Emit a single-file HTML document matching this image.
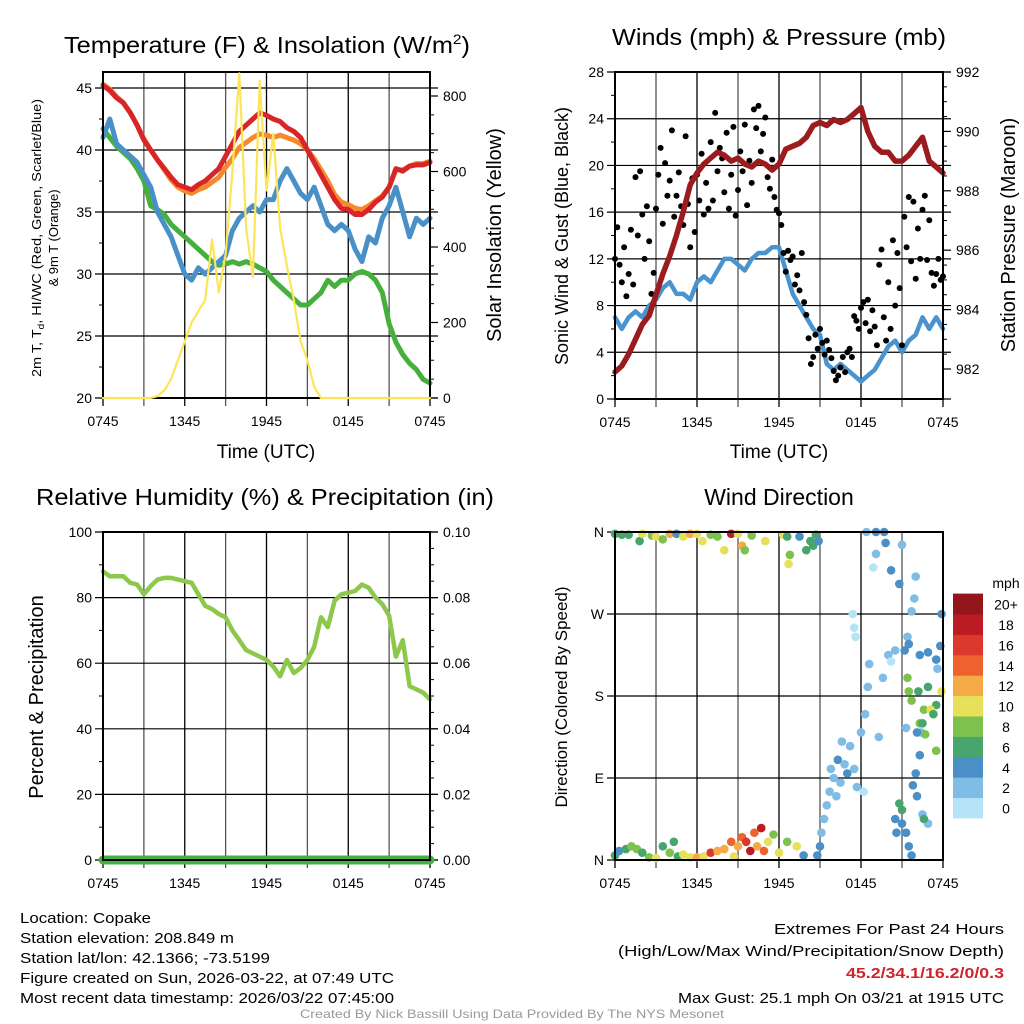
<!DOCTYPE html>
<html><head><meta charset="utf-8"><style>
html,body{margin:0;padding:0;background:#fff;}
svg{display:block;font-family:"Liberation Sans",sans-serif;}
</style></head><body>
<svg id="root" width="1024" height="1024" viewBox="0 0 1024 1024">
<g id="static">
<text x="267" y="53" font-size="23" text-anchor="middle" textLength="406" lengthAdjust="spacingAndGlyphs">Temperature (F) &amp; Insolation (W/m<tspan font-size="14" dy="-9">2</tspan><tspan dy="9">)</tspan></text>
<text x="779" y="45" font-size="23" text-anchor="middle" textLength="334" lengthAdjust="spacingAndGlyphs">Winds (mph) &amp; Pressure (mb)</text>
<text x="265" y="505" font-size="23" text-anchor="middle" textLength="458" lengthAdjust="spacingAndGlyphs">Relative Humidity (%) &amp; Precipitation (in)</text>
<text x="779" y="505" font-size="23" text-anchor="middle">Wind Direction</text>

<text transform="translate(41,238) rotate(-90)" font-size="13" text-anchor="middle" textLength="278" lengthAdjust="spacingAndGlyphs">2m T, T<tspan font-size="9" dy="3">d</tspan><tspan dy="-3">, HI/WC (Red, Green, Scarlet/Blue)</tspan></text>
<text transform="translate(58,238) rotate(-90)" font-size="13" text-anchor="middle">&amp; 9m T (Orange)</text>
<text transform="translate(501,235) rotate(-90)" font-size="20" text-anchor="middle">Solar Insolation (Yellow)</text>
<text transform="translate(568,236) rotate(-90)" font-size="18" text-anchor="middle">Sonic Wind &amp; Gust (Blue, Black)</text>
<text transform="translate(1015,235) rotate(-90)" font-size="20" text-anchor="middle">Station Pressure (Maroon)</text>
<text transform="translate(43,697) rotate(-90)" font-size="20" text-anchor="middle">Percent &amp; Precipitation</text>
<text transform="translate(567,697) rotate(-90)" font-size="17" text-anchor="middle">Direction (Colored By Speed)</text>

<text x="266" y="458" font-size="19" text-anchor="middle">Time (UTC)</text>
<text x="779" y="458" font-size="19" text-anchor="middle">Time (UTC)</text>

<g font-size="15">
<text x="20" y="923" textLength="131" lengthAdjust="spacingAndGlyphs">Location: Copake</text>
<text x="20" y="943" textLength="214" lengthAdjust="spacingAndGlyphs">Station elevation: 208.849 m</text>
<text x="20" y="963" textLength="250" lengthAdjust="spacingAndGlyphs">Station lat/lon: 42.1366; -73.5199</text>
<text x="20" y="983" textLength="374" lengthAdjust="spacingAndGlyphs">Figure created on Sun, 2026-03-22, at 07:49 UTC</text>
<text x="20" y="1003" textLength="374" lengthAdjust="spacingAndGlyphs">Most recent data timestamp: 2026/03/22 07:45:00</text>
</g>
<g font-size="15" text-anchor="end">
<text x="1004" y="934" textLength="230" lengthAdjust="spacingAndGlyphs">Extremes For Past 24 Hours</text>
<text x="1004" y="956" textLength="386" lengthAdjust="spacingAndGlyphs">(High/Low/Max Wind/Precipitation/Snow Depth)</text>
<text x="1004" y="978" fill="#d0232a" font-weight="bold" textLength="158" lengthAdjust="spacingAndGlyphs">45.2/34.1/16.2/0/0.3</text>
<text x="1004" y="1003" textLength="326" lengthAdjust="spacingAndGlyphs">Max Gust: 25.1 mph On 03/21 at 1915 UTC</text>
</g>
<text x="512" y="1018" font-size="12" fill="#999" text-anchor="middle" textLength="424" lengthAdjust="spacingAndGlyphs">Created By Nick Bassill Using Data Provided By The NYS Mesonet</text>
</g>
<g id="plots"></g>
</svg>
<script>
// ---- data (every 30 min from 0745 UTC, 49 values) ----
const timeTickLabels = ["0745","1345","1945","0145","0745"];
const tempRed = [45.2,44.8,44.2,43.8,43,42,40.8,40,39.2,38.5,37.8,37.2,37,36.8,37.2,37.5,38,38.5,39.5,40.5,41.5,42,42.5,43,42.8,42.5,42.3,41.8,41.5,41,40,39,38,37,36,35.3,35.2,34.8,34.8,35.2,35.8,36.2,37,38.5,38.3,38.7,38.8,38.8,39];
const tempOrange = [45.3,44.9,44.3,43.8,43,42,40.9,40,39.2,38.4,37.6,37,36.7,36.5,36.8,37,37.4,37.8,38.6,39.3,40.2,40.6,41,41.3,41.2,41,41.2,41,40.8,40.5,40,39.3,38.4,37.5,36.4,35.8,35.6,35.3,35.2,35.5,35.9,36.3,37,38.4,38.4,38.7,38.9,38.9,39.1];
const tempBlue = [41,42.5,40.5,40,39.5,39,38,37,35,34,33,31.5,30,29.5,30.5,30,30.5,31,31.5,33.5,34.5,35,35.5,35,36,36,37.5,38.5,37.5,36.5,36,37,35.5,34,33.5,34,33.5,32,31,33,32.5,34.5,35.5,37,35,33,34.5,34,34.5];
const tempGreen = [41.7,41,40.3,39.8,39.3,38.5,37.5,35.5,35.2,34.8,34,33.5,33,32.5,32,31.5,31,30.7,30.8,31,30.8,31,30.8,30.5,30.2,29.5,29,28.5,28,27.5,27.5,28,28.5,29.5,29,29.5,29.5,30,30.2,30,29.5,28.5,26,24.5,23.5,22.8,22.3,21.5,21.2];
const insolation = [0,0,0,0,0,0,0,0,5,20,50,100,150,200,230,260,420,280,380,600,860,450,320,840,550,700,450,350,260,150,100,30,0,0,0,0,0,0,0,0,0,0,0,0,0,0,0,0,0];
const windSpeed = [7,6,7,7.5,7,8,8.5,9.5,10,9,9,8.5,10,10.5,10,11,12,12,11.5,11,12,12.5,12.5,13,13,11,9,8,7,6,5.5,3,2.5,3,2.5,2,1.5,2,2.5,3.5,4.5,5,4,5,5.5,7,6,7,6];
const pressure = [981.9,982.1,982.5,983,983.5,983.8,984.5,985.2,985.8,986.5,987.3,988.2,988.6,988.9,989.1,989.3,989.2,989,989.1,988.9,988.8,989,988.9,988.7,988.9,989.4,989.5,989.6,989.8,990.2,990.3,990.2,990.4,990.3,990.4,990.6,990.8,990,989.5,989.3,989.3,989,989,989.2,989.5,989.8,989,988.8,988.6];
const humidity = [88,86.5,86.5,86.5,84.5,84,81,83.5,85.5,86,86,85.5,85,84.5,81,77.5,76.5,75,74,70,67,64,63,62,61,59,56,61,57,58.5,61,65,74,71,79,81,81.5,82,84,83,80,78,74.5,62,67,53,52,51,49];
const precip = [0,0,0,0,0,0,0,0,0,0,0,0,0,0,0,0,0,0,0,0,0,0,0,0,0,0,0,0,0,0,0,0,0,0,0,0,0,0,0,0,0,0,0,0,0,0,0,0,0];
// gusts every 10 min (145 values)
const gustValues = [12,14.7,11.5,10,13,8.8, 10.7,14.5,9.8,19,14,19.5, 15.8,12,16.5,13.5,9,10.8, 16.3,19.2,21.5,15,20.2,17.4, 18.7,23,15.6,17.4,19.4,16.5, 14.9,22.5,16.7,13,18.9,14.3, 19.2,17,21,15.8,18.5,16.3, 22,17,24.5,19.5,21.5,20.6, 17.7,22.8,16.3,19.2,23.3,15.7, 17.9,21.2,19.5,23.5,16.6,20.4, 18.5,24.8,23.2,25.1,21.2,22.7, 24.1,19,18,20.5,17.3,16.2, 15.9,14.9,12.5,10.9,12.7,11.9, 12.2,9.8,10.6,9.3,12.5,8.3, 7.2,5.2,3,3.6,5.5,4.3, 6,4.8,3.8,5,4.2,3.5, 2.4,1.6,2,2.7,3.6,2.3, 4,4.3,3.6,7.1,6.7,6, 7.8,8.3,6.5,8.5,5.8,7.6, 6.2,4.6,11.5,12.8,7,5, 10,6,13.6,8,12.5,9.5, 4.6,15.6,13,17.3,11.8,16.9, 10.3,14.6,12,16.2,17.4,11.9, 15.3,10.8,9.7,10.7,12,10.2, 10.5];
// wind direction observations
const dirHours = [0,0.3,0.8,1.2,1.6,2,2.5,3,3.5,4,4.3,4.6,5,5.5,6,6.5,7,7.5,8,8.5,8.7,9,9.3,9.6,9.9,10.2,10.4,10.7,10.9,11.2,11.6,12,12.6,13.3,13.8,
 0,0.5,1,1.8,2,2.7,3,3.5,4,4.5,5,5.5,6,6.4,7,7.5,8,8.5,9,9.3,9.5,10,11,12.3,12.6,12.8,12.7,13.5,14,14.3,14.5,14.7,14.9,
 14.8,15,15.1,15.3,15.5,15.7,15.8,16,16.2,16.3,16.5,16.6,16.8,17,17.2,17.5,17.7,18,18.2,18.3,18.5,18.6,17.4,17.5,17.6,19.3,19.6,20,20.2,20.5,20.8,21,21,21.3,21.5,21.7,21.3,21.8,22,22.1,22.4,22.9,22.5,20.5,20.6,
 18.4,19.1,19.8,19.1,19.7,18.9,20.2,20.8,21,22,21.9,21.7,21.4,21.5,21.2,22.3,22.9,23.8,23.5,23.9,23.6,21.4,21.5,21.7,22.2,22.6,22.9,23.5,23.1,23.9,22.3,22.5,22.1,22.3,22.7,23.3,23.5,22.6];
const dirDegrees = [5,10,12,15,12,8,3,2,15,8,20,4,6,3,3,4,8,10,12,20,4,15,25,20,10,30,15,35,10,20,28,8,20,15,5,
 358,357,357,350,358,356,355,352,358,358,355,358,358,350,357,355,340,358,358,345,340,356,350,357,355,335,325,355,340,350,345,357,350,
 5,15,30,45,60,75,100,90,70,110,85,130,105,95,125,100,80,140,75,160,190,215,270,255,245,135,200,225,218,230,62,55,40,30,15,5,145,82,95,70,140,40,50,45,30,
 360,360,348,336,360,321,318,303,346,311,287,273,245,237,230,225,228,235,220,270,210,200,185,175,185,165,190,170,165,185,150,150,140,115,138,160,120,45];
const dirSpeeds = [6,4,7,8,8,6,8,10,6,8,6,7,10,10,12,10,16,12,12,14,10,12,14,16,18,14,12,18,14,10,8,10,8,10,4,
 6,6,6,6,10,8,10,8,12,4,10,12,10,10,8,8,10,18,10,12,8,8,10,10,6,8,10,4,6,6,6,6,4,
 4,4,2,2,2,2,2,2,2,4,2,2,2,4,2,2,2,2,0,2,2,2,0,0,0,2,2,2,0,2,6,6,4,4,4,4,2,4,4,4,2,2,2,4,4,
 2,4,4,2,4,0,4,4,2,2,2,2,2,4,4,4,4,4,4,4,2,8,8,8,6,8,6,6,10,10,8,6,4,4,8,6,8,6];
const speedBinLabels = ["0","2","4","6","8","10","12","14","16","18","20+"];
const speedBinColors = ["#b5e4f6","#7fbde6","#4a8fc6","#48a56d","#7dc24c","#e7e05a","#f6a947","#ef6230","#dc382b","#bd1b24","#92161b"];

const NS="http://www.w3.org/2000/svg";
const plots=document.getElementById('plots');
function mk(tag,attrs,parent){const e=document.createElementNS(NS,tag);for(const k in attrs)e.setAttribute(k,attrs[k]);(parent||plots).appendChild(e);return e;}
function txt(x,y,s,size,anchor,parent){const t=mk('text',{x:x,y:y,'font-size':size,'text-anchor':anchor},parent);t.textContent=s;return t;}

function makePanel(o){
  const g=mk('g',{});
  
  
  const X=h=>o.x0+h/24*(o.x1-o.x0);
  const Y=v=>o.yb-(v-o.lmin)/(o.lmax-o.lmin)*(o.yb-o.yt);
  const YR=v=>o.yb-(v-o.rmin)/(o.rmax-o.rmin)*(o.yb-o.yt);
  for(let i=0;i<=8;i++){const x=X(i*3);const l=mk('line',{x1:x,x2:x,y1:o.yt,y2:o.yb+8,stroke:i%2?'#555':'#000','stroke-width':1.3},g);
    }
  o.lticks.forEach((v,i)=>{const y=Y(v);
    const l=mk('line',{x1:o.x0-8,x2:o.x1+(o.rticks?8:0),y1:y,y2:y,stroke:'#000','stroke-width':1.2},g);
    
    const t=txt(o.x0-11,y+5,o.llabels[i],14,'end',g);
    
    if(i<o.lticks.length-1&&o.lminor){const ym=Y((v+o.lticks[i+1])/2);mk('line',{x1:o.x0-4,x2:o.x0,y1:ym,y2:ym,stroke:'#000'},g);}
  });
  if(o.rticks){o.rticks.forEach((v,i)=>{const y=YR(v);
    mk('line',{x1:o.x1,x2:o.x1+8,y1:y,y2:y,stroke:'#000','stroke-width':1.2},g);
    const t=txt(o.x1+13,y+5,o.rlabels[i],14,'start',g);
    
    if(i<o.rticks.length-1){for(let k=1;k<o.rminorN;k++){const ym=YR(v+(o.rticks[i+1]-v)*k/o.rminorN);mk('line',{x1:o.x1,x2:o.x1+4,y1:ym,y2:ym,stroke:'#000'},g);}}
  });}
  timeTickLabels.forEach((s,i)=>{const t=txt(X(i*6),o.yb+28,s,14,'middle',g);
    });
  return {g,X,Y,YR};
}
function line(p,arr,scale,color,w,name){
  let d='';arr.forEach((v,i)=>{d+=(i?'L':'M')+p.X(i*0.5).toFixed(1)+','+scale(v).toFixed(1);});
  const e=mk('path',{d:d,fill:'none',stroke:color,'stroke-width':w,'stroke-linejoin':'round','stroke-linecap':'round'},p.g);
  return e;
}
function frame(p,o){const r=mk('rect',{x:o.x0,y:o.yt,width:o.x1-o.x0,height:o.yb-o.yt,fill:'none',stroke:'#000','stroke-width':2},p.g);
  }

const o1={name:'temperature-panel',x0:103,x1:430,yt:72,yb:398,lmin:20,lmax:20+326/12.4,lticks:[20,25,30,35,40,45],llabels:["20","25","30","35","40","45"],lminor:true,
 rmin:0,rmax:326/0.3775,rticks:[0,200,400,600,800],rlabels:["0","200","400","600","800"],rminorN:4};
const p1=makePanel(o1);
line(p1,tempGreen,p1.Y,'#45b03c',5,'dewpoint-line');
line(p1,tempBlue,p1.Y,'#4a90c8',5,'windchill-line');
line(p1,tempOrange,p1.Y,'#f5892e',5,'temp-9m-line');
line(p1,tempRed,p1.Y,'#d82527',5,'temp-2m-line');
frame(p1,o1);
line(p1,insolation,p1.YR,'#fde55a',2.2,'insolation-line');

const o2={name:'wind-panel',x0:615,x1:943,yt:72,yb:399,lmin:0,lmax:28,lticks:[0,4,8,12,16,20,24,28],llabels:["0","4","8","12","16","20","24","28"],lminor:true,
 rmin:992-327/29.7,rmax:992,rticks:[982,984,986,988,990,992],rlabels:["982","984","986","988","990","992"],rminorN:4};
const p2=makePanel(o2);
line(p2,windSpeed,p2.Y,'#4a93cf',4.5,'sonic-wind-line');
gustValues.forEach((v,i)=>{const c=mk('circle',{cx:p2.X(i/6).toFixed(1),cy:p2.Y(v).toFixed(1),r:3,fill:'#000'},p2.g);
  });
line(p2,pressure,p2.YR,'#9b1b1e',5.5,'pressure-line');
frame(p2,o2);

const o3={name:'humidity-panel',x0:103,x1:430,yt:532,yb:860,lmin:0,lmax:100,lticks:[0,20,40,60,80,100],llabels:["0","20","40","60","80","100"],lminor:true,
 rmin:0,rmax:0.1,rticks:[0,0.02,0.04,0.06,0.08,0.1],rlabels:["0.00","0.02","0.04","0.06","0.08","0.10"],rminorN:4};
const p3=makePanel(o3);
line(p3,humidity,p3.Y,'#8cc84b',4.5,'humidity-line');
line(p3,precip,p3.YR,'#46b043',9,'precip-line');
frame(p3,o3);

const o4={name:'direction-panel',x0:615,x1:943,yt:532,yb:860,lmin:0,lmax:360,lticks:[0,90,180,270,360],llabels:["N","E","S","W","N"],lminor:false};
const p4=makePanel(o4);
dirHours.forEach((h,i)=>{const b=Math.min(10,Math.floor(dirSpeeds[i]/2));
  const c=mk('circle',{cx:p4.X(h).toFixed(1),cy:p4.Y(dirDegrees[i]).toFixed(1),r:4.3,fill:speedBinColors[b]},p4.g);
  });
frame(p4,o4);
const lg=mk('g',{});


const lt=txt(1006,588,'mph',14,'middle',lg);
speedBinLabels.forEach((s,i)=>{const y=818-(i+1)*20.4;
  const r=mk('rect',{x:953,y:y.toFixed(1),width:30,height:20.9,fill:speedBinColors[i]},lg);
  
  const t=txt(1006,y+16,s,14,'middle',lg);
  });
</script>
</body></html>
